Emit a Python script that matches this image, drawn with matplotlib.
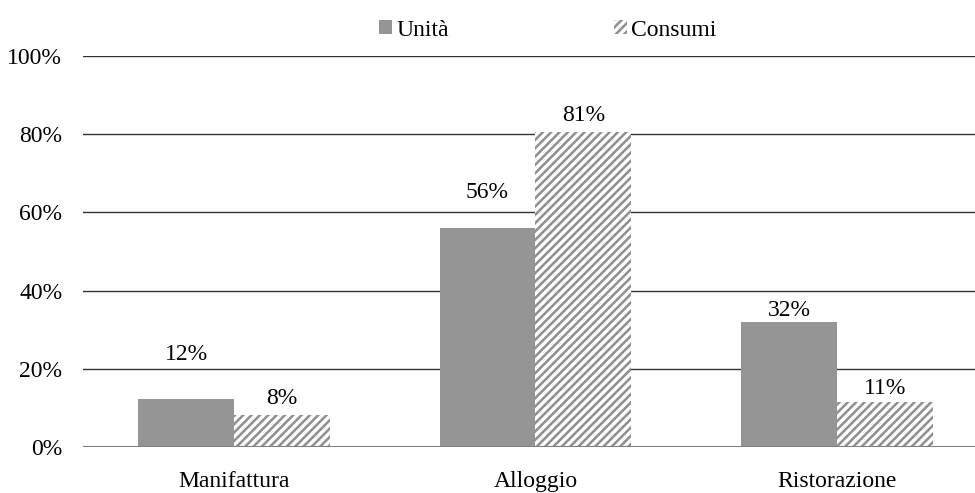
import matplotlib
matplotlib.use("Agg")
import matplotlib.pyplot as plt
import numpy as np

categories = ["Manifattura", "Alloggio", "Ristorazione"]
unita = [12.4, 56.0, 32.0]
consumi = [8.2, 80.6, 11.4]
series_names = ["Unità", "Consumi"]
yticks = [0, 20, 40, 60, 80, 100]

plt.rcParams['font.family'] = ['Liberation Serif', 'DejaVu Serif']
plt.rcParams['hatch.linewidth'] = 1.8

W, H = 975, 493
FS = 17
fig = plt.figure(figsize=(W / 100, H / 100), dpi=100)
ax = fig.add_axes([83 / W, 1 - 447 / H, (975 - 83) / W, (447 - 56) / H])

x = np.arange(len(categories))
bw = 0.318
gray = '#959595'
hatch_gray = '#8f8f8f'
b1 = ax.bar(x - bw / 2, unita, bw, color=gray, edgecolor='none', label=series_names[0], zorder=3)
b2 = ax.bar(x + bw / 2, consumi, bw, color='white', edgecolor=hatch_gray, linewidth=0,
            hatch='////', label=series_names[1], zorder=3)

ax.set_xlim(-0.5008, 2.458)
ax.set_ylim(0, 100)
ax.set_yticks(yticks)
ax.set_yticklabels([f"{t}%" for t in yticks])
for t in yticks[1:]:
    ax.axhline(t, color='#333333', lw=1.0, zorder=1)
ax.axhline(0, color='#808080', lw=1.5, zorder=4)
ax.set_xticks(x)
ax.set_xticklabels(categories)
for s in ax.spines.values():
    s.set_visible(False)
ax.tick_params(axis='both', length=0, labelsize=FS)
ax.tick_params(axis='y', pad=15)
ax.tick_params(axis='x', pad=17)

off_u = [31.5, 25.5, 8.5]
off_c = [11.5, 12, 10]
for i in range(len(categories)):
    ax.annotate(f"{round(unita[i])}%", (x[i] - bw / 2, unita[i]), xytext=(0, off_u[i]),
                textcoords='offset points', ha='center', va='center', fontsize=FS)
    ax.annotate(f"{round(consumi[i])}%", (x[i] + bw / 2, consumi[i]), xytext=(0, off_c[i]),
                textcoords='offset points', ha='center', va='center', fontsize=FS)

fig.legend(handles=[b1, b2], labels=series_names, loc='center', bbox_to_anchor=(548 / W, 1 - 30 / H),
           ncol=2, frameon=False, fontsize=FS, handlelength=0.55, handleheight=0.55,
           handletextpad=0.17, columnspacing=7.0)

fig.savefig("out.png", dpi=100)
